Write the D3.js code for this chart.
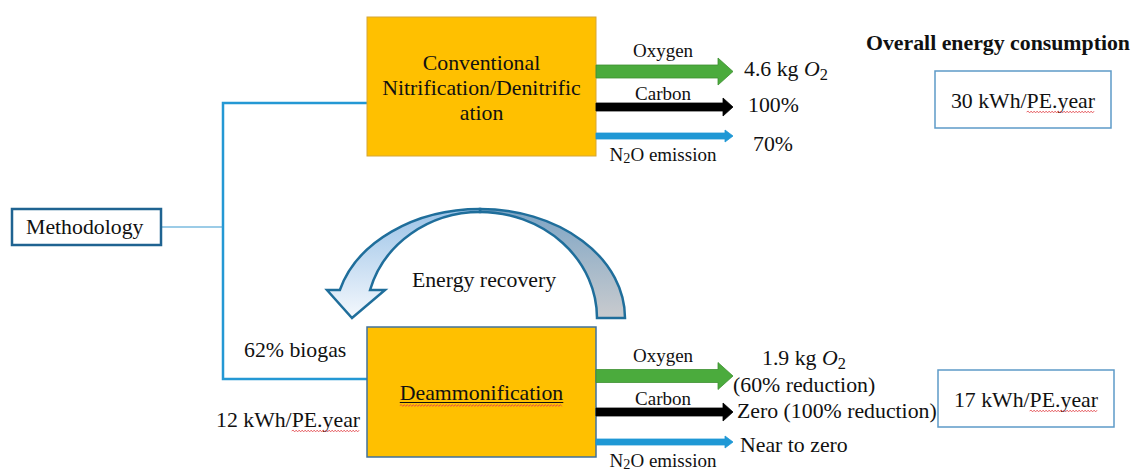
<!DOCTYPE html>
<html>
<head>
<meta charset="utf-8">
<script src="https://cdn.jsdelivr.net/npm/d3@7"></script>
<style>
  body { margin: 0; background: #fff; }
  text { font-family: "Liberation Serif", "Times New Roman", "DejaVu Serif", serif; fill: #111; }
</style>
</head>
<body>
<div id="chart"></div>
<script>
// texts of the diagram
const processNames = [["Conventional", "Nitrification/Denitrific", "ation"], ["Deammonification"]];
const flowNames = ["Oxygen", "Carbon", "N_2O emission"];
const conventionalResults = [["4.6 kg *O*_2"], ["100%"], ["70%"]];
const deammonResults = [["1.9 kg *O*_2", "(60% reduction)"], ["Zero (100% reduction)"], ["Near to zero"]];
const energyTitle = "Overall energy consumption";
const energyTotals = ["30 kWh/PE.year", "17 kWh/PE.year"];
const methodLabel = "Methodology";
const recoveryNotes = ["62% biogas", "12 kWh/PE.year"];
const recoveryLabel = "Energy recovery";

const W = 1132, H = 471;
const FONT = 21.8;
const LABEL_FONT = 19;

// layout
const box = { x: 367, w: 229, tops: [17, 327], heights: [139, 130] };
const arrowTip = 733;
const rowCenters = [[71.5, 107, 136], [376, 412, 442]];
const flowStyle = [
    { fill: "#4bab3d", stroke: "#3d8f31", shaft: 13, head: 27, headLen: 15, labelDy: -14.5 },
    { fill: "#000", stroke: "#000", shaft: 8, head: 18, headLen: 10, labelDy: -7.5 },
    { fill: "#1f98d5", stroke: "#1f98d5", shaft: 6, head: 12, headLen: 8, labelDy: 24.5 }
];
const resultPos = [
    [[[744, 76]], [[748, 112]], [[753, 151]]],
    [[[762, 365], [733, 392]], [[737, 418]], [[740, 452]]]
];

const svg = d3.select("#chart").append("svg")
    .attr("width", W).attr("height", H)
    .attr("font-family", "'Liberation Serif', 'Times New Roman', serif")
    .style("background", "#fff");

const defs = svg.append("defs");
let backGrad = defs.append("linearGradient").attr("id", "backGrad")
    .attr("x1", 0).attr("y1", 0).attr("x2", 0).attr("y2", 1);
backGrad.append("stop").attr("offset", "0%").attr("stop-color", "#7ea5c5");
backGrad.append("stop").attr("offset", "100%").attr("stop-color", "#c9cbce");
let frontGrad = defs.append("linearGradient").attr("id", "frontGrad")
    .attr("x1", 0).attr("y1", 0).attr("x2", 0).attr("y2", 1);
frontGrad.append("stop").attr("offset", "0%").attr("stop-color", "#9cc3e7");
frontGrad.append("stop").attr("offset", "100%").attr("stop-color", "#f4f8fd");

// text with *italic* and _s subscript markers
function richText(sel, str, size, lower) {
    const re = /(\*[^*]+\*)|(_.)|([^*_]+)/g;
    const shift = Math.round(size * (lower || 0.18));
    let m, lowered = false;
    while ((m = re.exec(str))) {
        let t;
        if (m[2]) {
            t = sel.append("tspan").attr("dy", shift).style("font-size", (size * 0.75) + "px").text(m[2][1]);
            lowered = true;
            continue;
        }
        t = sel.append("tspan").text(m[1] ? m[1].slice(1, -1) : m[3]);
        if (m[1]) t.style("font-style", "italic");
        if (lowered) { t.attr("dy", -shift); lowered = false; }
    }
    return sel;
}

// red spell-check squiggle under chars [from, to]
function squiggle(textSel, from, to, off) {
    const node = textSel.node();
    const a = node.getStartPositionOfChar(from), b = node.getEndPositionOfChar(to);
    const y = a.y + (off || 4);
    let p = d3.path();
    p.moveTo(a.x, y);
    let up = true;
    for (let x = a.x + 1.5; x <= b.x; x += 1.5) {
        p.lineTo(x, y + (up ? -0.9 : 0.9));
        up = !up;
    }
    svg.append("path").attr("d", p.toString())
        .attr("fill", "none").attr("stroke", "#e2464b").attr("stroke-width", 0.8);
}

// bracket from Methodology to the two processes
svg.append("path")
    .attr("d", `M${box.x},103 H223 V379 H${box.x}`)
    .attr("fill", "none").attr("stroke", "#2498d4").attr("stroke-width", 2.5);
svg.append("line")
    .attr("x1", 161).attr("x2", 223).attr("y1", 227).attr("y2", 227)
    .attr("stroke", "#3a9ad0").attr("stroke-width", 1.2);

svg.append("rect")
    .attr("x", 12).attr("y", 209).attr("width", 149).attr("height", 36)
    .attr("fill", "#fff").attr("stroke", "#1f6391").attr("stroke-width", 2.5);
svg.append("text").attr("x", 26).attr("y", 234)
    .style("font-size", FONT + "px").text(methodLabel);

// process boxes
processNames.forEach((lines, i) => {
    svg.append("rect")
        .attr("x", box.x).attr("y", box.tops[i])
        .attr("width", box.w).attr("height", box.heights[i])
        .attr("fill", "#ffc000")
        .attr("stroke", i === 0 ? "#d5a636" : "#41719c")
        .attr("stroke-width", i === 0 ? 1 : 1.5);
    const cx = box.x + box.w / 2;
    const y0 = i === 0 ? 70 : 400;
    lines.forEach((ln, j) => {
        const t = svg.append("text")
            .attr("x", cx).attr("y", y0 + j * 25)
            .attr("text-anchor", "middle")
            .style("font-size", FONT + "px").text(ln);
        if (i === 1) {
            const bb = t.node().getBBox();
            svg.append("line")
                .attr("x1", bb.x).attr("x2", bb.x + bb.width)
                .attr("y1", y0 + 2.5).attr("y2", y0 + 2.5)
                .attr("stroke", "#111").attr("stroke-width", 1);
            squiggle(t, 0, ln.length - 1, 5.5);
        }
    });
});

// flow arrows with their labels and results
function arrowPoints(x0, x1, cy, s) {
    const hx = x1 - s.headLen;
    return [
        [x0, cy - s.shaft / 2], [hx, cy - s.shaft / 2], [hx, cy - s.head / 2],
        [x1, cy], [hx, cy + s.head / 2], [hx, cy + s.shaft / 2], [x0, cy + s.shaft / 2]
    ];
}
const line = d3.line().curve(d3.curveLinearClosed);

[conventionalResults, deammonResults].forEach((results, r) => {
    flowNames.forEach((name, k) => {
        const s = flowStyle[k], cy = rowCenters[r][k];
        svg.append("path")
            .attr("d", line(arrowPoints(box.x + box.w, arrowTip, cy, s)))
            .attr("fill", s.fill).attr("stroke", s.stroke).attr("stroke-width", 0.8);
        richText(svg.append("text")
            .attr("x", 663).attr("y", Math.min(cy + s.labelDy, 467))
            .attr("text-anchor", "middle")
            .style("font-size", LABEL_FONT + "px"), name, LABEL_FONT, 0.12);
        results[k].forEach((val, v) => {
            const pos = resultPos[r][k][v];
            richText(svg.append("text")
                .attr("x", pos[0]).attr("y", pos[1])
                .style("font-size", FONT + "px"), val, FONT);
        });
    });
});

// curved energy recovery arrow
const rc = { cx: 480, cy: 318, ro: [145, 109], rib: [117, 106], rif: [114, 106], headY: 290, headL: 327, headR: 385, tipX: 352 };
const dy = rc.cy - rc.headY;
const outerLeftX = rc.cx - rc.ro[0] * Math.sqrt(1 - (dy / rc.ro[1]) ** 2);
const innerLeftX = rc.cx - rc.rif[0] * Math.sqrt(1 - (dy / rc.rif[1]) ** 2);

svg.append("path")
    .attr("d", `M${rc.cx + rc.ro[0]},${rc.cy} A${rc.ro[0]} ${rc.ro[1]} 0 0 0 ${rc.cx},${rc.cy - rc.ro[1]}` +
        ` L${rc.cx},${rc.cy - rc.rib[1]} A${rc.rib[0]} ${rc.rib[1]} 0 0 1 ${rc.cx + rc.rib[0]},${rc.cy} Z`)
    .attr("fill", "url(#backGrad)").attr("stroke", "#1f6e9b").attr("stroke-width", 2.5)
    .attr("stroke-linejoin", "miter");

svg.append("path")
    .attr("d", `M${rc.cx},${rc.cy - rc.ro[1]} A${rc.ro[0]} ${rc.ro[1]} 0 0 0 ${outerLeftX},${rc.headY}` +
        ` L${rc.headL},${rc.headY} L${rc.tipX},${rc.cy} L${rc.headR},${rc.headY} L${innerLeftX},${rc.headY}` +
        ` A${rc.rif[0]} ${rc.rif[1]} 0 0 1 ${rc.cx},${rc.cy - rc.rif[1]} Z`)
    .attr("fill", "url(#frontGrad)").attr("stroke", "#1f6e9b").attr("stroke-width", 2.5)
    .attr("stroke-linejoin", "miter");

svg.append("text").attr("x", 484).attr("y", 287)
    .attr("text-anchor", "middle")
    .style("font-size", FONT + "px").text(recoveryLabel);

// notes next to the deammonification box
svg.append("text").attr("x", 244).attr("y", 357)
    .style("font-size", FONT + "px").text(recoveryNotes[0]);
let note = svg.append("text").attr("x", 216).attr("y", 427)
    .style("font-size", FONT + "px").text(recoveryNotes[1]);
squiggle(note, recoveryNotes[1].indexOf("PE"), recoveryNotes[1].length - 1);

// overall energy consumption
svg.append("text").attr("x", 866).attr("y", 50)
    .style("font-size", FONT + "px").style("font-weight", "bold").text(energyTitle);

const energyBoxes = [{ x: 935, y: 71 }, { x: 938, y: 370 }];
energyTotals.forEach((val, i) => {
    const b = energyBoxes[i];
    svg.append("rect")
        .attr("x", b.x).attr("y", b.y).attr("width", 176).attr("height", 57)
        .attr("fill", "#fff").attr("stroke", "#5d9ac8").attr("stroke-width", 1.5);
    const t = svg.append("text")
        .attr("x", b.x + 88).attr("y", b.y + 37)
        .attr("text-anchor", "middle")
        .style("font-size", FONT + "px").text(val);
    squiggle(t, val.indexOf("PE"), val.length - 1);
});
</script>
</body>
</html>
